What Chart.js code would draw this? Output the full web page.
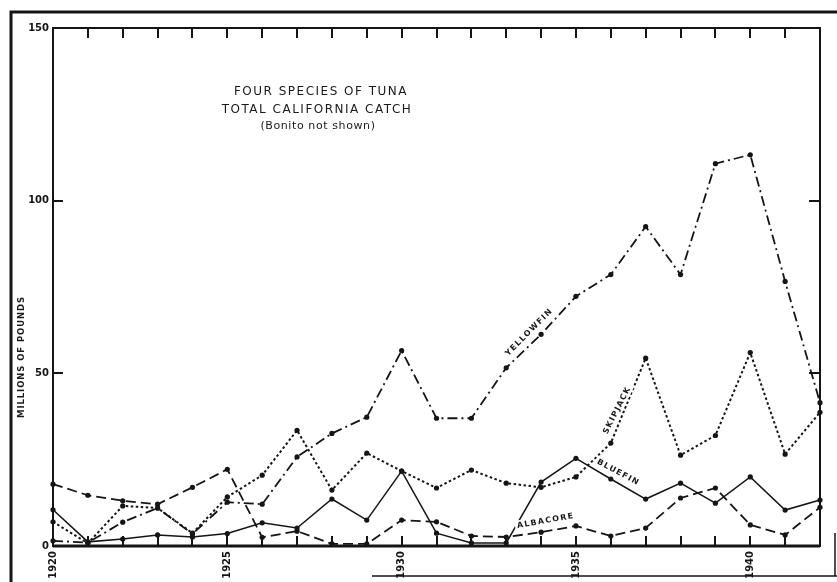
<!DOCTYPE html>
<html>
<head>
<meta charset="utf-8">
<title>Four Species of Tuna — Total California Catch</title>
<script src="https://cdn.jsdelivr.net/npm/chart.js@4.4.1/dist/chart.umd.min.js"></script>
<style>
  html, body { margin: 0; padding: 0; background: #fff; }
  #wrap { width: 837px; height: 582px; }
</style>
</head>
<body>
<div id="wrap"><canvas id="c" width="837" height="582"></canvas></div>
<script>
// Catch by year, millions of pounds
const years = ['1920','1921','1922','1923','1924','1925','1926','1927','1928','1929','1930',
               '1931','1932','1933','1934','1935','1936','1937','1938','1939','1940','1941','1942'];
const yellowfin = [1.5, 1.0, 6.9, 11.0, 3.5, 12.7, 12.1, 25.8, 32.6, 37.3, 56.6,
                   37.0, 37.0, 51.6, 61.3, 72.3, 78.6, 92.5, 78.6, 110.7, 113.3, 76.6, 41.5];
const skipjack  = [7.0, 0.8, 11.6, 11.0, 3.7, 14.2, 20.5, 33.5, 16.2, 26.9, 21.7,
                   16.8, 22.0, 18.2, 17.0, 20.0, 29.8, 54.4, 26.3, 32.0, 56.0, 26.6, 38.7];
const bluefin   = [10.5, 1.2, 2.0, 3.2, 2.6, 3.6, 6.7, 5.2, 13.6, 7.5, 21.7,
                   3.7, 0.9, 0.9, 18.5, 25.4, 19.4, 13.6, 18.2, 12.4, 20.0, 10.4, 13.3];
const albacore  = [17.9, 14.7, 13.1, 12.1, 17.0, 22.2, 2.5, 4.3, 0.6, 0.6, 7.5,
                   7.0, 2.9, 2.6, 4.0, 5.8, 2.9, 5.2, 13.9, 16.8, 6.1, 3.2, 11.2];
const yTicks = [0, 50, 100, 150];
const labeledYears = ['1920','1925','1930','1935','1940'];

const INK = '#151515';

function series(label, data, dash, width) {
  return {
    label, data,
    borderColor: INK, borderWidth: width, borderDash: dash,
    pointRadius: 2.6, pointBackgroundColor: INK, pointBorderWidth: 0,
    tension: 0, fill: false
  };
}

// Boxed frame, inward ticks, headings and in-line series labels
const decor = {
  id: 'decor',
  beforeDraw(chart) {
    const ctx = chart.ctx;
    ctx.save();
    ctx.fillStyle = '#fff';
    ctx.fillRect(0, 0, chart.width, chart.height);
    ctx.restore();
  },
  afterDatasetsDraw(chart) {
    const { ctx, chartArea: a, scales: { x, y } } = chart;
    ctx.save();
    ctx.strokeStyle = INK;
    ctx.fillStyle = INK;

    // outer sheet border
    ctx.lineWidth = 3;
    ctx.beginPath();
    ctx.moveTo(11, 582); ctx.lineTo(11, 12); ctx.lineTo(837, 12);
    ctx.stroke();
    ctx.lineWidth = 1.5;
    ctx.beginPath();
    ctx.moveTo(372, 576); ctx.lineTo(837, 576);
    ctx.moveTo(835, 533); ctx.lineTo(835, 576);
    ctx.stroke();

    // plot box
    ctx.lineWidth = 2;
    ctx.strokeRect(a.left, a.top, a.right - a.left, a.bottom - a.top);
    ctx.lineWidth = 3;
    ctx.beginPath();
    ctx.moveTo(a.left, a.bottom); ctx.lineTo(a.right, a.bottom);
    ctx.stroke();

    // year ticks, top and bottom, pointing inward
    ctx.lineWidth = 2;
    ctx.beginPath();
    for (let i = 1; i < years.length - 1; i++) {
      const px = Math.round(x.getPixelForValue(i));
      ctx.moveTo(px, a.top); ctx.lineTo(px, a.top + 10);
      ctx.moveTo(px, a.bottom); ctx.lineTo(px, a.bottom - 10);
    }
    // value ticks on both sides
    [50, 100].forEach(v => {
      const py = Math.round(y.getPixelForValue(v));
      ctx.moveTo(a.left, py); ctx.lineTo(a.left + 10, py);
      ctx.moveTo(a.right, py); ctx.lineTo(a.right - 11, py);
    });
    ctx.stroke();

    // heading
    ctx.textAlign = 'center';
    ctx.textBaseline = 'middle';
    ctx.fillStyle = '#1a1a1a';
    ctx.font = '12px "DejaVu Sans"';
    ctx.letterSpacing = '1.5px';
    ctx.fillText('FOUR SPECIES OF TUNA', 321, 92);
    ctx.fillText('TOTAL CALIFORNIA CATCH', 317, 110);
    ctx.font = '11px "DejaVu Sans"';
    ctx.letterSpacing = '0.6px';
    ctx.fillText('(Bonito not shown)', 318, 126);

    // vertical axis title
    ctx.save();
    ctx.translate(22, 357);
    ctx.rotate(-Math.PI / 2);
    ctx.font = 'bold 8.5px "DejaVu Sans"';
    ctx.letterSpacing = '0.9px';
    ctx.fillText('MILLIONS OF POUNDS', 0, 0);
    ctx.restore();

    // series names written along their lines
    const tags = [
      ['YELLOWFIN', 13.65, 62.0, -45],
      ['SKIPJACK', 16.17, 39.4, -63],
      ['BLUEFIN', 16.22, 21.4, 28],
      ['ALBACORE', 14.13, 7.4, -10]
    ];
    ctx.font = 'bold 8px "DejaVu Sans"';
    ctx.letterSpacing = '1.3px';
    tags.forEach(([t, xi, v, deg]) => {
      const px = x.getPixelForValue(xi);
      const py = y.getPixelForValue(v);
      ctx.save();
      ctx.translate(px, py);
      ctx.rotate(deg * Math.PI / 180);
      const w = ctx.measureText(t).width;
      ctx.fillStyle = '#fff';
      ctx.fillRect(-w / 2 - 2, -5, w + 4, 10);
      ctx.fillStyle = '#1a1a1a';
      ctx.fillText(t, 0, 0.5);
      ctx.restore();
    });
    ctx.restore();
  }
};

new Chart(document.getElementById('c'), {
  type: 'line',
  data: {
    labels: years,
    datasets: [
      series('Yellowfin', yellowfin, [10, 4, 2, 4], 1.8),
      series('Skipjack', skipjack, [2.5, 2.5], 2),
      series('Bluefin', bluefin, [], 1.5),
      series('Albacore', albacore, [10, 5], 1.8)
    ]
  },
  options: {
    responsive: false,
    animation: false,
    devicePixelRatio: 1,
    layout: { padding: { left: 0, top: 28, right: 13, bottom: 0 } },
    plugins: { legend: { display: false }, tooltip: { enabled: false }, title: { display: false } },
    scales: {
      x: {
        type: 'category',
        offset: false,
        grid: { display: false, drawTicks: false },
        border: { display: false },
        afterFit(s) { s.height = 36; },
        ticks: {
          autoSkip: false, minRotation: 90, maxRotation: 90, padding: 5,
          color: INK, font: { family: '"DejaVu Sans"', size: 10, weight: 'bold' },
          callback(v, i) { return labeledYears.includes(years[i]) ? years[i] : ''; }
        }
      },
      y: {
        min: 0, max: 150,
        grid: { display: false, drawTicks: false },
        border: { display: false },
        afterFit(s) { s.width = 53; },
        afterBuildTicks(s) { s.ticks = yTicks.map(v => ({ value: v })); },
        ticks: {
          padding: 4, color: INK,
          font: { family: '"DejaVu Sans"', size: 10, weight: 'bold' }
        }
      }
    }
  },
  plugins: [decor]
});
</script>
</body>
</html>
